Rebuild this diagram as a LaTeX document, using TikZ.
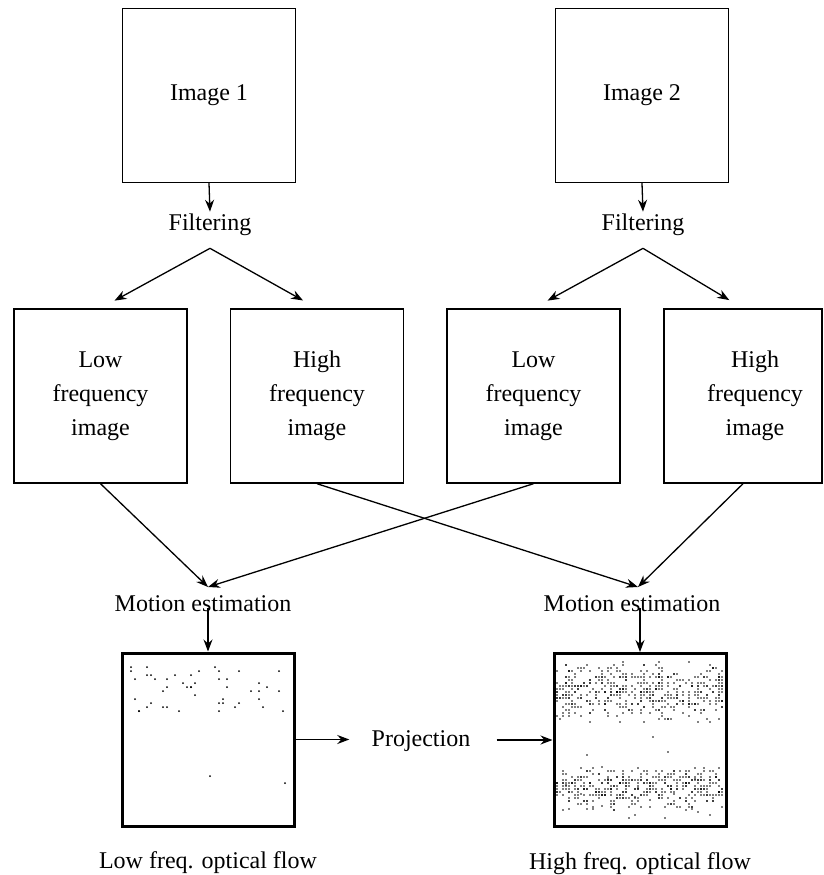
\documentclass[tikz,border=0pt]{standalone}
\usepackage{fontspec}
\setmainfont{Liberation Serif}
\usetikzlibrary{arrows.meta,positioning}
\tikzset{
    plain-box/.style = {draw, line width=0.7pt, rectangle, minimum width=86.5pt, minimum height=87pt, inner sep=0pt, align=center},
    flow-box/.style = {draw, line width=1.5pt, rectangle, minimum width=86pt, minimum height=86.5pt, inner sep=0pt},
    box-label/.style = {inner sep=1pt, align=center},
    flow-arrow/.style = {line width=0.65pt, -{Stealth[length=6pt, width=4.5pt, inset=2pt]}},
}

\begin{document}
\begin{tikzpicture}[x=0.5pt, y=-0.5pt, font=\fontsize{12}{17}\selectfont]
\useasboundingbox (0,0) rectangle (824,875);

% input images
\node[plain-box] (img1) at (209,95.5) {Image 1};
\node[plain-box] (img2) at (642,95.5) {Image 2};
\node[box-label] (filt1) at (210,225) {Filtering};
\node[box-label] (filt2) at (643,225) {Filtering};

% filtered images
\node[plain-box] (low1) at (100.5,396) {Low\\frequency\\image};
\node[plain-box] (high1) at (317,396) {High\\frequency\\image};
\node[plain-box] (low2) at (533.5,396) {Low\\frequency\\image};
\node[plain-box, minimum width=79pt] (high2) at (743,396) {};
\node[box-label] (high2-text) at (755,396) {High\\frequency\\image};

\node[box-label] (mot1) at (203,604) {Motion estimation};
\node[box-label] (mot2) at (632,604) {Motion estimation};
\coordinate (me1) at (208,587);
\coordinate (me2) at (638,587);

% optical flow fields
\node[flow-box] (res1) at (208,739.5) {};
\node[flow-box] (res2) at (640,740) {};
\node[box-label] (proj) at (421,741) {Projection};
\node[box-label, below=11pt of res1] (cap1) {Low freq. optical flow};
\node[box-label, below=11pt of res2] (cap2) {High freq. optical flow};

\coordinate (fork1) at ([yshift=-5pt]filt1.south);
\coordinate (fork2) at ([yshift=-5pt]filt2.south);

\draw[flow-arrow] (img1.south) -- (filt1.north);
\draw[flow-arrow] (img2.south) -- (filt2.north);
\draw[flow-arrow, shorten >=8pt] (fork1) -- (low1.north);
\draw[flow-arrow, shorten >=8pt] (fork1) -- (high1.north);
\draw[flow-arrow, shorten >=8pt] (fork2) -- (low2.north);
\draw[flow-arrow, shorten >=8pt] (fork2) -- (high2.north);

\draw[flow-arrow] (low1.south) -- (me1);
\draw[flow-arrow] (low2.south) -- (me1);
\draw[flow-arrow] (high1.south) -- (me2);
\draw[flow-arrow] (high2.south) -- (me2);

\draw[flow-arrow] (res1.north |- mot1.south) ++(0,-6) -- (res1.north);
\draw[flow-arrow] (res2.north |- mot2.south) ++(0,-6) -- (res2.north);
\draw[flow-arrow] (res1.east) -- ([xshift=-10pt]res1.east -| proj.west);
\draw[flow-arrow] ([xshift=12pt]res2.west -| proj.east) -- (res2.west);

% dots of the flow fields
\pgfmathsetseed{42}
\foreach \k in {1,...,48}{
    \pgfmathsetmacro{\dx}{131+4*int(39*rnd)}
    \pgfmathsetmacro{\dy}{667+4*int(12*rnd)}
    \fill (\dx,\dy) circle[radius=0.5pt];
}
\fill (210,776) circle[radius=0.5pt];
\fill (285,783) circle[radius=0.5pt];

\foreach \k in {1,...,480}{
    \pgfmathsetmacro{\dx}{557+3*int(56*rnd)}
    \pgfmathsetmacro{\dy}{659+3*int(11*(rnd+rnd))}
    \fill (\dx,\dy) circle[radius=0.42pt];
}
\foreach \k in {1,...,400}{
    \pgfmathsetmacro{\dx}{557+3*int(56*rnd)}
    \pgfmathsetmacro{\dy}{765+3*int(8*(rnd+rnd))}
    \fill (\dx,\dy) circle[radius=0.42pt];
}
\foreach \k in {1,...,22}{
    \pgfmathsetmacro{\dx}{557+3*int(56*rnd)}
    \pgfmathsetmacro{\dy}{722+3*int(33*rnd)}
    \fill (\dx,\dy) circle[radius=0.42pt];
}
\end{tikzpicture}
\end{document}
